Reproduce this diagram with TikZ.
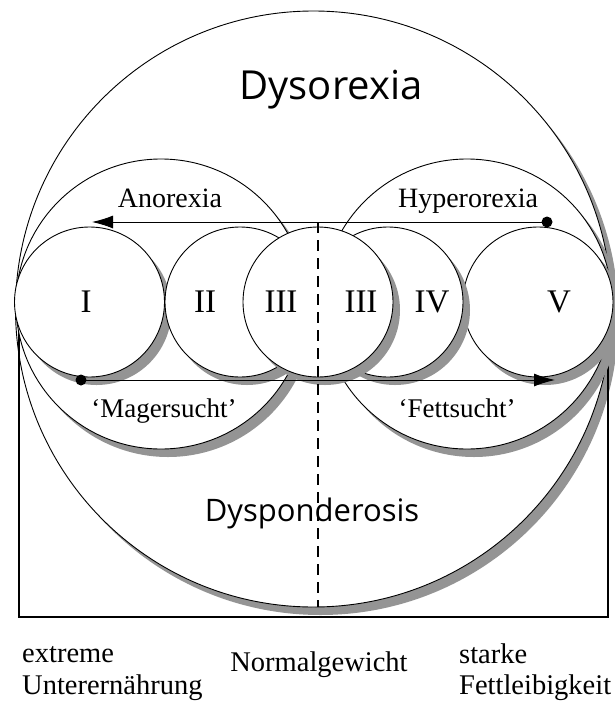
\documentclass[tikz,border=0pt]{standalone}
\usepackage{fontspec}
\setmainfont{Liberation Serif}
\newfontfamily\sansf{Open Sans}
\usetikzlibrary{arrows.meta,shadows}
\begin{document}
\begin{tikzpicture}[x=1pt,y=-1pt,
  shadowed/.style={drop shadow={shadow xshift=7pt,shadow yshift=-8pt,fill=black!42,opacity=1}},
  ring/.style={circle,draw=black,line width=0.9pt,fill=white,inner sep=0pt,shadowed},
  big/.style={ring,minimum size=596pt},
  mid/.style={ring,minimum size=290pt},
  small/.style={ring,minimum size=150pt},
  frame/.style={draw=black,line width=1.2pt},
  axis/.style={draw=black,line width=1.8pt,dash pattern=on 11pt off 7pt},
  flow/.style={draw=black,line width=0.9pt},
  dotnode/.style={circle,fill=black,inner sep=0pt,minimum size=11pt},
  tipL/.style={-{Latex[length=21pt,width=13pt]}},
  numeral/.style={font=\fontsize{33}{36}\selectfont,inner sep=0pt,anchor=base},
  lab/.style={font=\fontsize{28}{30}\selectfont,inner sep=0pt,anchor=base},
  sublab/.style={font=\fontsize{27}{30}\selectfont,inner sep=0pt,anchor=base},
  foot/.style={font=\fontsize{28.5}{34}\selectfont,inner sep=0pt},
  head/.style={font=\sansf\fontsize{40}{44}\selectfont,inner sep=0pt,anchor=base},
  subhead/.style={font=\sansf\fontsize{31}{34}\selectfont,inner sep=0pt,anchor=base}]
\useasboundingbox (0,0) rectangle (615,702);

% outer circle
\node[big] (dys) at (313.5,309) {};
% open frame
\coordinate (fTL) at (19,300);
\coordinate (fBL) at (19,617);
\coordinate (fBR) at (608,617);
\coordinate (fTR) at (608,300);
\draw[frame] (fTL) -- (fBL) -- (fBR) -- (fTR);

% medium circles
\node[mid] (ano) at (161,304) {};
\node[mid] (hyp) at (467,304) {};

% small circles
\node[small] (c5) at (538,302) {};
\node[small] (c1) at (89.5,302) {};
\node[small] (c4) at (388,302) {};
\node[small] (c2) at (240,302) {};
\node[small] (c3) at (318,302) {};

% dashed axis
\coordinate (axT) at (318,222);
\coordinate (axB) at (318,607);
\draw[axis] (axT) -- (axB);

% arrows
\node[dotnode] (dR) at (547,222) {};
\coordinate (aL) at (92,222);
\draw[flow,tipL] (dR.center) -- (aL);
\node[dotnode] (dL) at (81,380) {};
\coordinate (aR) at (555,380);
\draw[flow,tipL] (dL.center) -- (aR);

% numerals
\node[numeral] (n1) at (86,312) {I};
\node[numeral] (n2) at (205,312) {II};
\node[numeral] (n3a) at (281,312) {III};
\node[numeral] (n3b) at (361,312) {III};
\node[numeral] (n4) at (432,312) {IV};
\node[numeral] (n5) at (559,312) {V};

% labels
\node[head] (tDys) at (331,99) {Dysorexia};
\node[subhead] (tDysp) at (312,521) {Dysponderosis};
\node[lab] (tAno) at (170,207) {Anorexia};
\node[lab] (tHyp) at (468,207) {Hyperorexia};
\node[sublab] (tMag) at (164,417) {‘Magersucht’};
\node[sublab] (tFett) at (457,417) {‘Fettsucht’};

% bottom captions
\node[foot,anchor=base west] (b1) at (22,662) {extreme};
\node[foot,anchor=base west] (b2) at (22,694) {Unterernährung};
\node[foot,anchor=base] (b3) at (319,671) {Normalgewicht};
\node[foot,anchor=base west] (b4) at (459,663) {starke};
\node[foot,anchor=base west] (b5) at (459,694) {Fettleibigkeit};
\end{tikzpicture}
\end{document}
